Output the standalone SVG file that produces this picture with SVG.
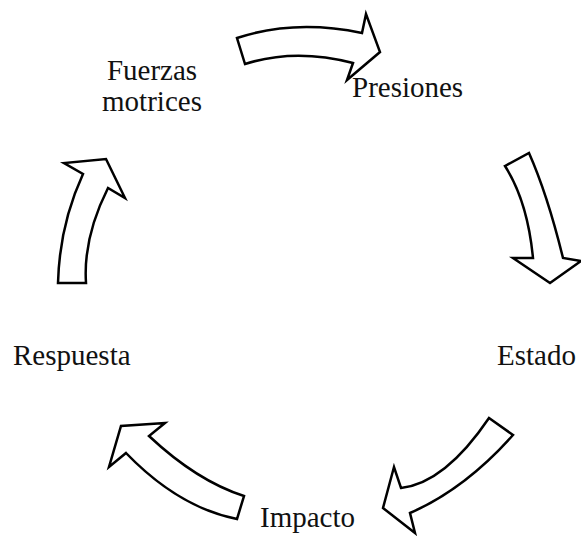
<svg xmlns="http://www.w3.org/2000/svg" width="581" height="536" viewBox="0 0 581 536">
<style>
.lbl{font-family:"Liberation Serif","Times New Roman",serif;font-size:29px;fill:#111}
.arr{fill:#fff;stroke:#000;stroke-width:2.5;stroke-linejoin:miter}
</style>
<rect width="581" height="536" fill="#fff"/>
<g id="connectors">
<path class="arr" d="M237,38 Q294.5,19 362,33 L366,14 L380,52 L347,80 L353,63 Q295,48 245,64 Z"/>
<path class="arr" d="M505,166 L529,153 Q547.4,194.5 563,258 L581,261 L550,283 L513,258 L533,258 Q527.6,201.4 505,166 Z"/>
<path class="arr" d="M489,418 L513,435 Q465,489 410,513 L415,533 L383,508 L394,467 L401,488 Q445,483 489,418 Z"/>
<path class="arr" d="M244,496 Q197,481 149,436 L165,423 L121,426 L109,467 L126,453 Q178.5,507.4 237,519 Z"/>
<path class="arr" d="M58,283 L86,283 Q83,237.7 108,188 L125,198 L106,159 L64,163 L83,174 Q59.5,225 58,283 Z"/>
</g>
<g id="fuerzas"><text class="lbl" x="152" y="80" text-anchor="middle">Fuerzas</text><text class="lbl" x="152" y="111" text-anchor="middle">motrices</text></g>
<g id="presiones"><text class="lbl" x="352" y="97">Presiones</text></g>
<g id="estado"><text class="lbl" x="497" y="365">Estado</text></g>
<g id="impacto"><text class="lbl" x="260" y="527">Impacto</text></g>
<g id="respuesta"><text class="lbl" x="13" y="365">Respuesta</text></g>
</svg>
